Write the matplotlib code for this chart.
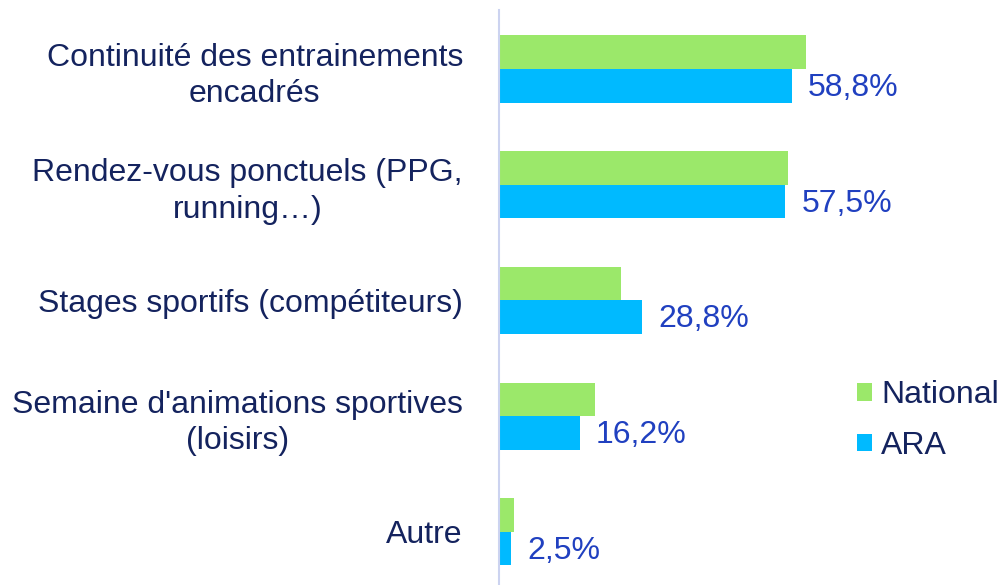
import matplotlib.pyplot as plt
import numpy as np

plt.rcParams['font.family'] = ['Liberation Sans', 'DejaVu Sans']

categories = ["Continuité des entrainements\nencadrés",
              "Rendez-vous ponctuels (PPG,\nrunning…)",
              "Stages sportifs (compétiteurs)",
              "Semaine d'animations sportives\n(loisirs)",
              "Autre"]
national = [61.6, 58.0, 24.4, 19.3, 3.0]
ara = [58.8, 57.5, 28.8, 16.2, 2.5]
ara_labels = ["58,8%", "57,5%", "28,8%", "16,2%", "2,5%"]

green = '#9BE86A'
blue = '#00BAFF'
navy = '#14235E'
val_col = '#2040C0'

fig = plt.figure(figsize=(10.01, 5.85), dpi=100)
ax = fig.add_axes([499 / 1001, 0, 1 - 499 / 1001, 575 / 585])

y = np.arange(len(categories))
h = 0.29
ax.barh(y - h / 2, national, height=h, color=green, label='National')
ax.barh(y + h / 2, ara, height=h, color=blue, label='ARA')

for yi, v, lab in zip(y, ara, ara_labels):
    ax.text(v + 3.2, yi + h / 2 + 0.02, lab, va='center', ha='left',
            fontsize=23, color=val_col)

ax.set_xlim(0, 100.8)
ax.set_ylim(4.46, -0.51)
ax.set_yticks(y)
ax.set_yticklabels(categories, fontsize=23, color=navy, multialignment='center',
                   linespacing=1.3)
ax.tick_params(axis='y', length=0, pad=26)
ax.set_xticks([])
for s in ['top', 'right', 'bottom']:
    ax.spines[s].set_visible(False)
ax.spines['left'].set_color('#CCD3F0')
ax.spines['left'].set_linewidth(1.5)

leg = ax.legend(loc='upper left', bbox_to_anchor=(0.688, 0.378), frameon=False,
                fontsize=23, handlelength=0.45, handleheight=0.45,
                handletextpad=0.3, labelspacing=0.65, borderaxespad=0)
for t in leg.get_texts():
    t.set_color(navy)

fig.savefig('out.png', dpi=100)
